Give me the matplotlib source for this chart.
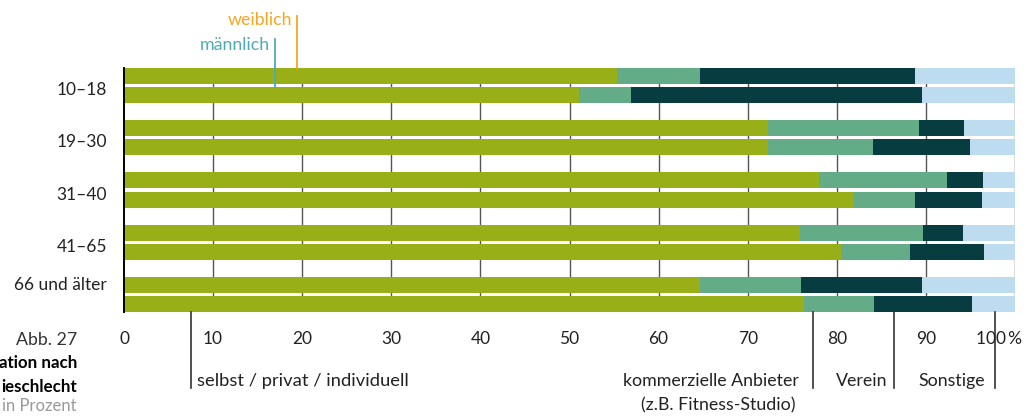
#!/usr/bin/env python3
"""Stacked bars: where people do sport, by age group and sex."""
import matplotlib

matplotlib.use("Agg")
import matplotlib.pyplot as plt
import matplotlib.transforms as mtransforms

plt.rcParams["font.family"] = ["Lato", "DejaVu Sans"]

AGE_GROUPS = ["10–18", "19–30", "31–40", "41–65", "66 und älter"]
CATEGORIES = ["selbst / privat / individuell", "kommerzielle Anbieter", "Verein", "Sonstige"]
COLORS = ["#98AF17", "#64AC87", "#073C41", "#BDDCF0"]

# shares in percent, one list per category, order = AGE_GROUPS
weiblich_selbst = [55.3, 72.3, 78.0, 75.9, 64.6]
weiblich_kommerziell = [9.3, 16.9, 14.4, 13.8, 11.4]
weiblich_verein = [24.2, 5.1, 4.0, 4.5, 13.6]
weiblich_sonstige = [11.2, 5.7, 3.6, 5.8, 10.4]

maennlich_selbst = [51.1, 72.3, 81.9, 80.5, 76.3]
maennlich_kommerziell = [5.8, 11.8, 6.9, 7.7, 7.9]
maennlich_verein = [32.7, 10.9, 7.5, 8.3, 11.0]
maennlich_sonstige = [10.4, 5.0, 3.7, 3.5, 4.8]

X_TICKS = [0, 10, 20, 30, 40, 50, 60, 70, 80, 90, 100]
X_TICK_LABELS = ["0", "10", "20", "30", "40", "50", "60", "70", "80", "90", "100\u2009%"]

W, H = 1035, 416


def fx(px):
    return px / W


def fy(py):
    return 1 - py / H


def main():
    fig = plt.figure(figsize=(W / 100, H / 100), dpi=100)
    ax = fig.add_axes([fx(124), fy(312), fx(1015) - fx(124), fy(68) - fy(312)])

    bar_h = 0.306
    off = 0.182
    series = {
        "w": [weiblich_selbst, weiblich_kommerziell, weiblich_verein, weiblich_sonstige],
        "m": [maennlich_selbst, maennlich_kommerziell, maennlich_verein, maennlich_sonstige],
    }
    for key, shift in (("w", -off), ("m", off)):
        left = [0.0] * len(AGE_GROUPS)
        for vals, color in zip(series[key], COLORS):
            ys = [i + shift for i in range(len(AGE_GROUPS))]
            ax.barh(ys, vals, left=left, height=bar_h, color=color, zorder=2, linewidth=0)
            left = [a + b for a, b in zip(left, vals)]

    ax.set_xlim(0, 100)
    ax.set_ylim(4 + 0.335, -0.335)
    for x in X_TICKS[1:]:
        ax.axvline(x, color="#555555", lw=1.0, zorder=1)

    for s in ["top", "right", "bottom"]:
        ax.spines[s].set_visible(False)
    ax.spines["left"].set_color("black")
    ax.spines["left"].set_linewidth(1.4)
    ax.spines["left"].set_zorder(3)
    ax.set_yticks([])
    ax.set_xticks([])

    # tick labels below the bars
    tick_y = 4.335 + 27 / 52.25
    for x, lab in zip(X_TICKS, X_TICK_LABELS):
        if lab.endswith("%"):
            ax.text(x + 0.8, tick_y, lab, ha="right", va="center", fontsize=12.5, color="#222222")
        else:
            ax.text(x, tick_y, lab, ha="center", va="center", fontsize=12.5, color="#222222")

    # age group labels
    label_dy = [0.09, 0.09, 0.09, 0.09, -0.18]
    for i, (name, dy) in enumerate(zip(AGE_GROUPS, label_dy)):
        ax.text(-1.9, i + dy, name, ha="right", va="center", fontsize=12.5, color="#222222")

    # sex markers
    ax.plot([19.4, 19.4], [-1.336, -0.335], color="#F5A623", lw=1.3, clip_on=False, zorder=4)
    ax.text(18.9, -1.25, "weiblich", ha="right", va="center", fontsize=12.8, color="#F5A623")
    ax.plot([16.9, 16.9], [-0.89, 0.029], color="#4FAAB4", lw=1.3, clip_on=False, zorder=4)
    ax.text(16.4, -0.775, "männlich", ha="right", va="center", fontsize=12.8, color="#4FAAB4")

    # category key below the axis
    trans = mtransforms.blended_transform_factory(ax.transData, fig.transFigure)
    for x in [7.5, 77.3, 86.4, 97.8]:
        ax.plot([x, x], [fy(312), fy(388)], color="#333333", lw=1.2, transform=trans, clip_on=False)
    fig.text(fx(197), fy(381), CATEGORIES[0], ha="left", va="center", fontsize=13.2, color="#222222")
    fig.text(fx(799), fy(381), CATEGORIES[1], ha="right", va="center", fontsize=12.8, color="#222222")
    fig.text(fx(718), fy(405), "(z.B. Fitness-Studio)", ha="center", va="center", fontsize=12.8, color="#222222")
    fig.text(fx(862), fy(381), CATEGORIES[2], ha="center", va="center", fontsize=12.8, color="#222222")
    fig.text(fx(952), fy(381), CATEGORIES[3], ha="center", va="center", fontsize=12.8, color="#222222")

    # figure caption at the left edge
    fig.text(fx(77), fy(340), "Abb. 27", ha="right", va="center", fontsize=12.8, color="#333333")
    fig.text(fx(77), fy(363), "ation nach", ha="right", va="center", fontsize=12.2, fontweight="bold", color="black")
    fig.text(fx(77), fy(387), "ieschlecht", ha="right", va="center", fontsize=12.2, fontweight="bold", color="black")
    fig.text(fx(77), fy(406), "in Prozent", ha="right", va="center", fontsize=12, color="#999999")

    fig.savefig("out.png", dpi=100)
    plt.close(fig)


if __name__ == "__main__":
    main()
